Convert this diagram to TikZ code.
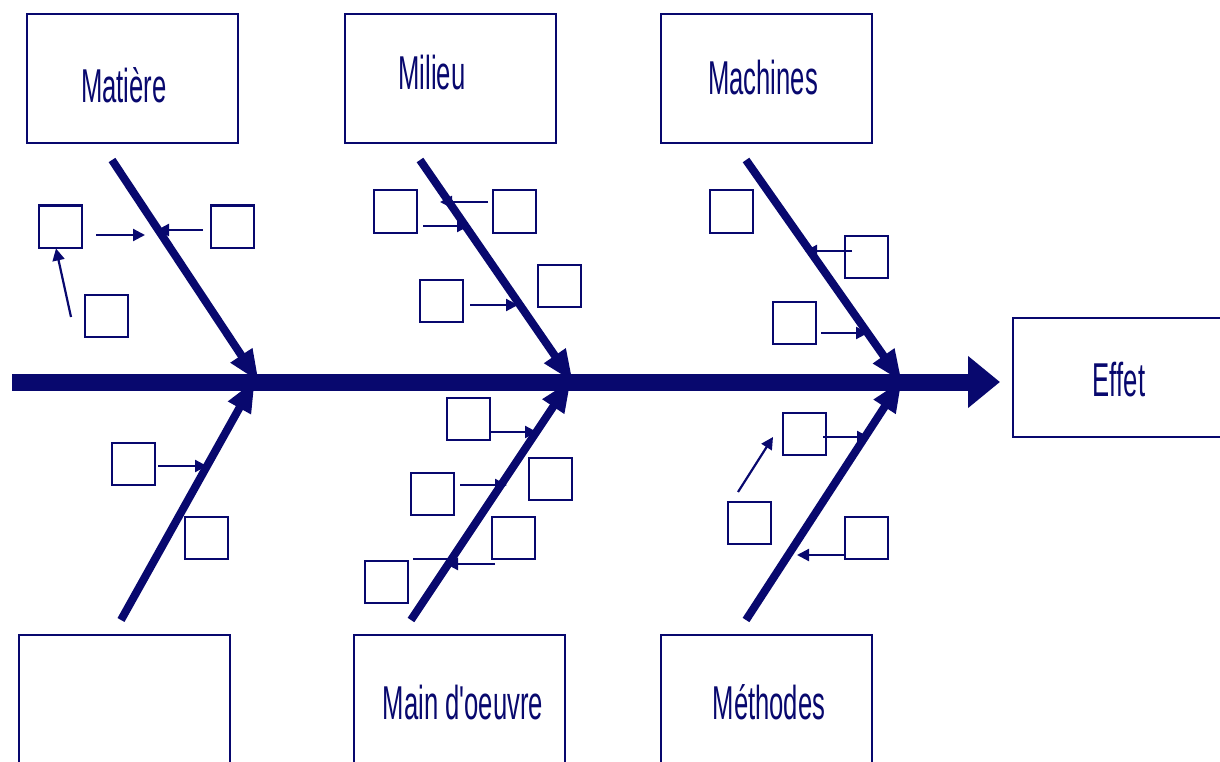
\documentclass[tikz,border=0pt]{standalone}
\usepackage{fontspec}
\usepackage{graphicx}
\setmainfont{Liberation Sans}
\usetikzlibrary{arrows.meta}
\definecolor{nv}{RGB}{8,8,110}
\begin{document}
\begin{tikzpicture}[x=1pt,y=-1pt,
  sbox/.style={draw=nv,line width=2pt,minimum width=43pt,minimum height=42pt,inner sep=0},
  bbox/.style={draw=nv,line width=2pt,inner sep=0,minimum width=211pt},
  lbl/.style={text=nv,inner sep=0,anchor=base,font=\fontsize{47.5}{50}\selectfont},
  bone/.style={draw=nv,line width=8pt,-{Triangle[length=32pt,width=24pt]}},
  spine/.style={draw=nv,line width=17pt,-{Triangle[length=32pt,width=50pt]}},
  sarr/.style={draw=nv,line width=2.2pt,-{Triangle[length=12pt,width=12pt]}},
  sline/.style={draw=nv,line width=2.2pt}]
\useasboundingbox (0,0) rectangle (1220,762);
\clip (0,0) rectangle (1220,762);

% big boxes
\node[bbox,minimum height=129pt] (bM) at (132.5,78.5) {};
\node[bbox,minimum height=129pt] (bMi) at (450,78.5) {};
\node[bbox,minimum height=129pt] (bMa) at (766,78.5) {};
\node[bbox,minimum height=140pt] (bX) at (124,705) {};
\node[bbox,minimum height=140pt] (bMo) at (459,705) {};
\node[bbox,minimum height=140pt] (bMe) at (766,705) {};
\node[draw=nv,line width=2pt,inner sep=0,minimum width=222pt,minimum height=119pt] (bE) at (1124,377.5) {};

% labels
\node[lbl] (tM) at (124,103) {\scalebox{0.54}[1]{Matière}};
\node[lbl] (tMi) at (432,90) {\scalebox{0.54}[1]{Milieu}};
\node[lbl] (tMa) at (763,95) {\scalebox{0.54}[1]{Machines}};
\node[lbl] (tMo) at (463,719) {\scalebox{0.54}[1]{Main d\textquotesingle oeuvre}};
\node[lbl] (tMe) at (769,719) {\scalebox{0.54}[1]{Méthodes}};
\node[lbl] (tE) at (1119,396) {\scalebox{0.54}[1]{Effet}};

% spine
\coordinate (sp0) at (12,382);
\coordinate (sp1) at (1000,382);
\draw[spine] (sp0) -- (sp1);

% bones
\coordinate (b1s) at (112,160); \coordinate (b1e) at (259,382);
\coordinate (b2s) at (420,160); \coordinate (b2e) at (573,382);
\coordinate (b3s) at (746,160); \coordinate (b3e) at (902,382);
\coordinate (b4s) at (121,620); \coordinate (b4e) at (255,380);
\coordinate (b5s) at (411,620); \coordinate (b5e) at (571,380);
\coordinate (b6s) at (746,620); \coordinate (b6e) at (902,380);
\draw[bone] (b1s) -- (b1e);
\draw[bone] (b2s) -- (b2e);
\draw[bone] (b3s) -- (b3e);
\draw[bone] (b4s) -- (b4e);
\draw[bone] (b5s) -- (b5e);
\draw[bone] (b6s) -- (b6e);

% small boxes
\node[sbox] (A1) at (60.5,226.5) {};
\node[sbox] (A2) at (232,226.5) {};
\node[sbox] (A3) at (106,315.5) {};
\node[sbox] (B1) at (395.5,211.5) {};
\node[sbox] (B2) at (514,211.5) {};
\node[sbox] (B3) at (441,300.5) {};
\node[sbox] (B4) at (559,286) {};
\node[sbox] (C1) at (731,211.5) {};
\node[sbox] (C2) at (866.5,256.5) {};
\node[sbox] (C3) at (794.5,322.5) {};
\node[sbox] (D1) at (133,464) {};
\node[sbox] (D2) at (206,538) {};
\node[sbox] (E1) at (468.5,419) {};
\node[sbox] (E2) at (550,478.5) {};
\node[sbox] (E3) at (432.5,493.5) {};
\node[sbox] (E4) at (513.5,538) {};
\node[sbox] (E5) at (386.5,582) {};
\node[sbox] (F1) at (804,434) {};
\node[sbox] (F2) at (749,523) {};
\node[sbox] (F3) at (866.5,538) {};

% small arrows
\coordinate (a1s) at (96,235);  \coordinate (a1e) at (145,235);
\coordinate (a2s) at (203,230); \coordinate (a2e) at (157,230);
\coordinate (a3s) at (71,317);
\coordinate (a4s) at (488,202); \coordinate (a4e) at (440,202);
\coordinate (a5s) at (423,226); \coordinate (a5e) at (469,226);
\coordinate (a6s) at (470,305); \coordinate (a6e) at (518,305);
\coordinate (a7s) at (852,251); \coordinate (a7e) at (805,251);
\coordinate (a8s) at (821,333); \coordinate (a8e) at (868,333);
\coordinate (a9s) at (158,466); \coordinate (a9e) at (207,466);
\coordinate (a10e) at (537,432);
\coordinate (a11s) at (460,485); \coordinate (a11e) at (507,485);
\coordinate (l12s) at (413,559); \coordinate (l12e) at (453,559);
\coordinate (a13s) at (495,564); \coordinate (a13e) at (446,564);
\coordinate (a14s) at (823,437); \coordinate (a14e) at (869,437);
\coordinate (a15s) at (738,492); \coordinate (a15e) at (773,437);
\coordinate (a16e) at (797,555);

\draw[sarr] (a1s) -- (a1e);
\draw[sarr] (a2s) -- (a2e);
\draw[sarr] (a3s) -- (A1.south -| 56,0);
\draw[sarr] (a4s) -- (a4e);
\draw[sarr] (a5s) -- (a5e);
\draw[sarr] (a6s) -- (a6e);
\draw[sarr] (a7s) -- (a7e);
\draw[sarr] (a8s) -- (a8e);
\draw[sarr] (a9s) -- (a9e);
\draw[sarr] (E1.east |- a10e) -- (a10e);
\draw[sarr] (a11s) -- (a11e);
\draw[sline] (l12s) -- (l12e);
\draw[sarr] (a13s) -- (a13e);
\draw[sarr] (a14s) -- (a14e);
\draw[sarr] (a15s) -- (a15e);
\draw[sarr] (F3.west |- a16e) -- (a16e);
\end{tikzpicture}
\end{document}
